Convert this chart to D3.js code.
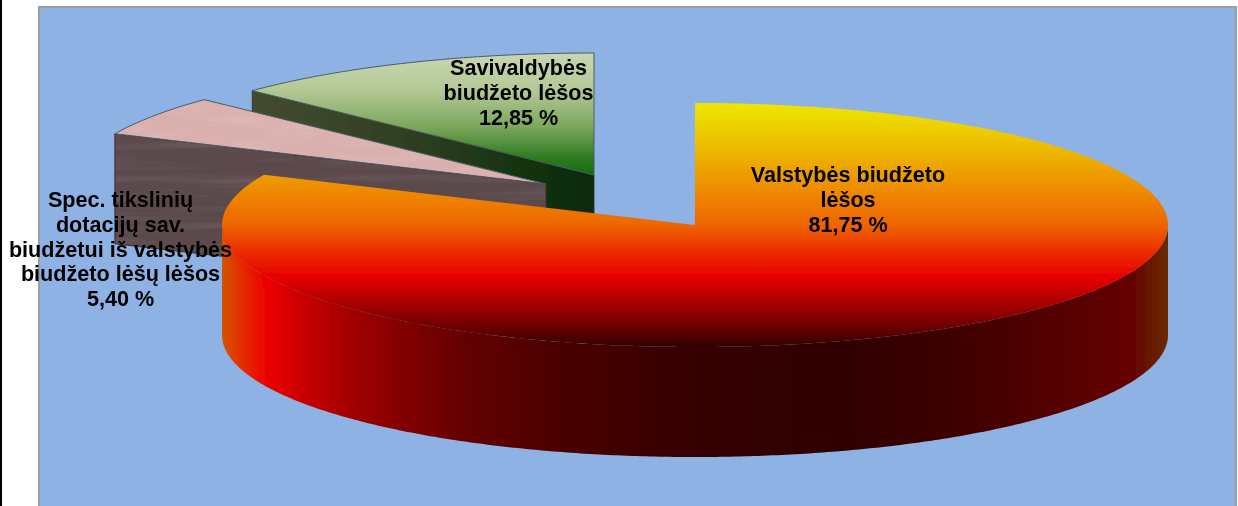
<!DOCTYPE html>
<html>
<head>
<meta charset="utf-8">
<script src="https://cdn.jsdelivr.net/npm/d3@7/dist/d3.min.js"></script>
<style>
html,body{margin:0;padding:0;background:#fff;overflow:hidden}
svg{display:block}
text{font-family:"Liberation Sans",Arial,sans-serif;font-weight:700;fill:#060606}
</style>
</head>
<body>
<svg id="c" width="1238" height="506"></svg>
<script>
const categories = ["Valstybės biudžeto lėšos", "Spec. tikslinių dotacijų sav. biudžetui iš valstybės biudžeto lėšų lėšos", "Savivaldybės biudžeto lėšos"];
const values = [81.75, 5.40, 12.85];
const valueLabels = ["81,75 %", "5,40 %", "12,85 %"];
const labelLines = [
  ["Valstybės biudžeto", "lėšos"],
  ["Spec. tikslinių", "dotacijų sav.", "biudžetui iš valstybės", "biudžeto lėšų lėšos"],
  ["Savivaldybės", "biudžeto lėšos"]
];

const W = 1238, H = 506, RX = 473, RY = 122, DEPTH = 110;
const centres = [[695,225],[546,184],[594,175]];
const labelAnchors = [[848,182],[120.5,207],[518.5,75]];
const LINE = 24.8;

const svg = d3.select("#c");
const defs = svg.append("defs");

function grad(id, x1, y1, x2, y2, stops){
  const g = defs.append("linearGradient").attr("id", id).attr("gradientUnits","userSpaceOnUse")
    .attr("x1",x1).attr("y1",y1).attr("x2",x2).attr("y2",y2);
  stops.forEach(([o,c]) => g.append("stop").attr("offset",o).attr("stop-color",c));
}
grad("mainTop",0,103,0,348,[[0,"#efe600"],[0.1,"#ecd000"],[0.36,"#ee8a00"],[0.5,"#ee6400"],[0.6,"#ec3000"],[0.71,"#e70000"],[0.82,"#a80000"],[0.93,"#600303"],[1,"#2e0404"]]);
grad("mainWall",222,0,1168,0,[[0,"#d45400"],[0.018,"#e23400"],[0.042,"#ec0800"],[0.06,"#e20000"],[0.09,"#c60000"],[0.135,"#a50000"],[0.188,"#840000"],[0.262,"#620000"],[0.347,"#4e0404"],[0.452,"#3c0303"],[0.558,"#300303"],[0.664,"#2f0303"],[0.77,"#3e0000"],[0.88,"#540000"],[0.96,"#640000"],[1,"#6a2c00"]]);
grad("greenTop",0,53,0,175,[[0,"#c9d6b2"],[0.3,"#b4c996"],[0.6,"#7ea85e"],[0.85,"#2f7d22"],[1,"#17690f"]]);
grad("greenCut",253,0,594,0,[[0,"#434c30"],[0.5,"#2d3d20"],[0.8,"#14330f"],[1,"#0b2a07"]]);
grad("fadeLeft",222,0,560,0,[[0,"#fff"],[0.6,"#fff"],[1,"#000"]]);

function mottle(id, freq, amp, seed){
  const f = defs.append("filter").attr("id",id).attr("x",0).attr("y",0).attr("width",1).attr("height",1);
  f.append("feTurbulence").attr("type","fractalNoise").attr("baseFrequency",freq).attr("numOctaves",3).attr("seed",seed).attr("result","n");
  f.append("feColorMatrix").attr("in","n").attr("type","matrix")
    .attr("values",`0 0 0 0 1  0 0 0 0 1  0 0 0 0 1  ${amp} 0 0 0 ${-amp*0.42}`).attr("result","a");
  f.append("feComposite").attr("in","a").attr("in2","SourceAlpha").attr("operator","in").attr("result","b");
  f.append("feMerge").selectAll("feMergeNode").data(["SourceGraphic","b"]).join("feMergeNode").attr("in",d=>d);
}
mottle("mottleTop","0.015 0.09",0.22,4);
mottle("mottleCut","0.006 0.12",0.09,7);

defs.append("filter").attr("id","soft").attr("x","-2%").attr("y","-5%").attr("width","104%").attr("height","110%")
  .append("feGaussianBlur").attr("stdDeviation",0.4);
defs.append("filter").attr("id","glow").attr("x","-5%").attr("y","-10%").attr("width","110%").attr("height","120%")
  .append("feGaussianBlur").attr("stdDeviation",4);
defs.append("mask").attr("id","leftMask").attr("maskUnits","userSpaceOnUse")
  .attr("x",0).attr("y",0).attr("width",W).attr("height",H)
  .append("rect").attr("width",W).attr("height",H).attr("fill","url(#fadeLeft)");

// background panel
svg.append("rect").attr("width",W).attr("height",H).attr("fill","#fff");
svg.append("rect").attr("x",0).attr("y",0).attr("width",2).attr("height",H).attr("fill","#000");
svg.append("rect").attr("x",39).attr("y",7).attr("width",1197).attr("height",H+10)
  .attr("fill","#8db2e3").attr("stroke","#9a9ea6").attr("stroke-width",2);

const pie = d3.pie().sort(null).value(d=>d);
const arcs = pie(values);

const project = i => a => [centres[i][0] + RX*Math.sin(a), centres[i][1] - RY*Math.cos(a)];
const line = d3.line();
function samples(a0, a1){
  const n = Math.max(2, Math.ceil(Math.abs(a1-a0)/0.01));
  return d3.range(n+1).map(k => a0 + (a1-a0)*k/n);
}
function topPath(i){
  const p = project(i), d = arcs[i];
  return line([centres[i], ...samples(d.startAngle,d.endAngle).map(p)]) + "Z";
}
function cutPath(i){
  const p = project(i), e = p(arcs[i].startAngle), c = centres[i];
  return line([c, e, [e[0],e[1]+DEPTH], [c[0],c[1]+DEPTH]]) + "Z";
}
function wallPath(i, a0, a1){
  const s = samples(a0,a1).map(project(i));
  const b = s.slice().reverse().map(([x,y])=>[x,y+DEPTH]);
  return line([...s,...b]) + "Z";
}

const chart = svg.append("g").attr("filter","url(#soft)");
const edge = "#4a5a66";
// green slice (index 2)
chart.append("path").attr("d", cutPath(2)).attr("fill","url(#greenCut)").attr("stroke","#26331c").attr("stroke-width",0.8);
chart.append("path").attr("d", topPath(2)).attr("fill","url(#greenTop)").attr("stroke",edge).attr("stroke-width",1);

// pink slice (index 1)
chart.append("path").attr("d", cutPath(1)).attr("fill","#5c4a4c").attr("filter","url(#mottleCut)");
chart.append("path").attr("d", cutPath(1)).attr("fill","none").attr("stroke","#3a2c34").attr("stroke-width",1);
chart.append("path").attr("d", topPath(1)).attr("fill","#dab0ae").attr("filter","url(#mottleTop)");
chart.append("path").attr("d", topPath(1)).attr("fill","none").attr("stroke",edge).attr("stroke-width",1);

// main slice (index 0): rim wall, a soft fade of the top over its left part, then top face
const wallD = wallPath(0, Math.PI/2, 3*Math.PI/2);
defs.append("clipPath").attr("id","wallClip").append("path").attr("d", wallD);
chart.append("path").attr("d", wallD).attr("fill","url(#mainWall)");
chart.append("g").attr("clip-path","url(#wallClip)").attr("mask","url(#leftMask)")
  .append("path").attr("d", topPath(0)).attr("fill","url(#mainTop)").attr("filter","url(#glow)");
chart.append("path").attr("d", topPath(0)).attr("fill","url(#mainTop)");

// labels
const lab = svg.append("g").attr("font-size",21.6).attr("text-anchor","middle").attr("filter","url(#soft)");
labelLines.forEach((lines,i) => {
  const rows = [...lines, valueLabels[i]];
  lab.append("g").selectAll("text").data(rows).join("text")
    .attr("x",labelAnchors[i][0])
    .attr("y",(d,k)=>labelAnchors[i][1]+k*LINE)
    .text(d=>d);
});
</script>
</body>
</html>
